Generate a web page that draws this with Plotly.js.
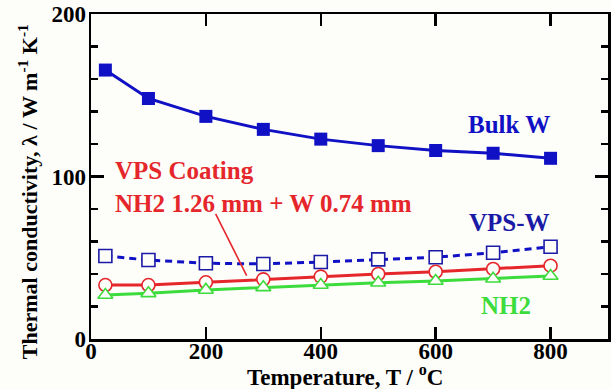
<!DOCTYPE html>
<html>
<head>
<meta charset="utf-8">
<script src="https://cdn.plot.ly/plotly-3.0.1.min.js"></script>
<style>
  html, body { margin: 0; padding: 0; background: #fdfdfa; }
  #chart { width: 611px; height: 389px; }
</style>
</head>
<body>
<div id="chart"></div>
<script>
// Temperatures (°C) at which conductivity was measured
const temperature = [25, 100, 200, 300, 400, 500, 600, 700, 800];

// Thermal conductivity, W m^-1 K^-1
const bulkW      = [165.5, 148, 137, 129, 123, 119, 116, 114.3, 111.2];
const vpsW       = [51.1, 48.6, 46.6, 46.2, 47.4, 49, 50.3, 53.1, 56.8];
const vpsCoating = [33.2, 33.2, 34.9, 36.7, 38.4, 40, 41.4, 43.1, 45.1];
const nh2        = [27.1, 28.1, 30.2, 31.8, 33.2, 34.6, 35.7, 37.1, 38.8];

const xTicks = [0, 200, 400, 600, 800];
const yTicks = [0, 100, 200];

const FONT = 'Liberation Serif, Times New Roman, serif';
const BLUE = '#1010c4';
const NAVY = '#1a1aa6';
const RED = '#e5262b';
const GREEN = '#3ddc3d';
const BG = '#fdfdfa';

const traces = [
  {
    x: temperature, y: bulkW, mode: 'lines+markers', name: 'Bulk W',
    line: { color: BLUE, width: 3 },
    marker: { symbol: 'square', size: 13, color: BLUE }
  },
  {
    x: temperature, y: vpsW, mode: 'lines+markers', name: 'VPS-W',
    line: { color: BLUE, width: 3, dash: '7px,5px' },
    marker: { symbol: 'square', size: 13, color: BG, line: { color: NAVY, width: 1.6 } }
  },
  {
    x: temperature, y: vpsCoating, mode: 'lines+markers', name: 'VPS Coating',
    line: { color: RED, width: 3 },
    marker: { symbol: 'circle', size: 13, color: BG, line: { color: RED, width: 1.6 } }
  },
  {
    x: temperature, y: nh2, mode: 'lines+markers', name: 'NH2',
    line: { color: GREEN, width: 3 },
    marker: { symbol: 'triangle-up', size: 13, color: BG, line: { color: GREEN, width: 1.6 } }
  }
];

const labelFont = (size, color) => ({ family: FONT, size: size, color: color, weight: 'bold' });

const layout = {
  width: 611, height: 389,
  margin: { l: 91, r: 3, t: 14, b: 50 },
  paper_bgcolor: BG, plot_bgcolor: BG,
  showlegend: false,
  font: labelFont(23, '#000'),
  xaxis: {
    range: [0, 900], tickvals: xTicks, ticktext: xTicks.map(String),
    ticks: 'inside', ticklen: 12, tickwidth: 2.5, tickcolor: '#000',
    ticklabelstandoff: -10,
    showline: true, linewidth: 2.5, linecolor: '#000', mirror: 'ticks',
    showgrid: false, zeroline: false,
    tickfont: labelFont(23, '#000')
  },
  yaxis: {
    range: [0, 200], tickvals: yTicks, ticktext: yTicks.map(String),
    ticks: 'inside', ticklen: 13, tickwidth: 2.5, tickcolor: '#000',
    ticklabelstandoff: -2,
    minor: { dtick: 20, ticks: 'inside', ticklen: 7, tickwidth: 2.5, tickcolor: '#000' },
    showline: true, linewidth: 2.5, linecolor: '#000', mirror: 'ticks',
    showgrid: false, zeroline: false,
    tickfont: labelFont(23, '#000')
  },
  annotations: [
    // axis titles, placed by hand in paper units
    { x: 0.491, y: -0.113, xref: 'paper', yref: 'paper', xanchor: 'center', yanchor: 'middle',
      showarrow: false, text: 'Temperature, T / <sup>o</sup>C', font: labelFont(23, '#000') },
    { x: -0.1217, y: 0.452, xref: 'paper', yref: 'paper', xanchor: 'center', yanchor: 'middle',
      textangle: -90, showarrow: false,
      text: 'Thermal conductivity, λ / W m<sup>-1</sup> K<sup>-1</sup>', font: labelFont(22, '#000') },
    // series labels
    { x: 727, y: 132, xref: 'x', yref: 'y', text: 'Bulk W', showarrow: false, font: labelFont(25, BLUE) },
    { x: 729, y: 71.4, xref: 'x', yref: 'y', text: 'VPS-W', showarrow: false, font: labelFont(25, NAVY) },
    { x: 722, y: 20.9, xref: 'x', yref: 'y', text: 'NH2', showarrow: false, font: labelFont(25, GREEN) },
    { x: 38, y: 104, xref: 'x', yref: 'y', xanchor: 'left', text: 'VPS Coating', showarrow: false,
      font: labelFont(25, RED) },
    { x: 38, y: 83.4, xref: 'x', yref: 'y', xanchor: 'left', text: 'NH2 1.26 mm + W 0.74 mm', showarrow: false,
      font: labelFont(25, RED) }
  ],
  shapes: [
    // pointer from the coating label down to its curve
    { type: 'line', xref: 'x', yref: 'y', x0: 217, y0: 77, x1: 271, y1: 39,
      line: { color: RED, width: 1.6 } }
  ]
};

Plotly.newPlot('chart', traces, layout, { displayModeBar: false, staticPlot: true });
</script>
</body>
</html>
